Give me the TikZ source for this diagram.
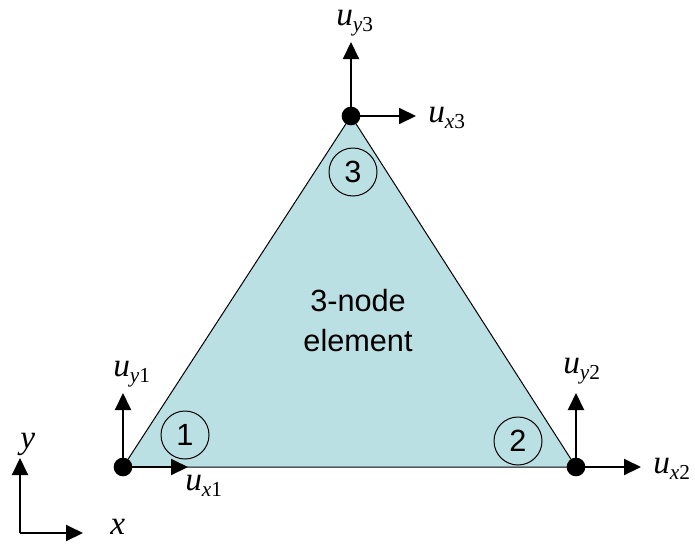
\documentclass[tikz,border=0pt]{standalone}
\usepackage{fontspec}
\setmainfont{Liberation Serif}
\newfontfamily\labelfont{Liberation Sans}
\usetikzlibrary{arrows.meta,positioning}

\definecolor{elemfill}{RGB}{187,224,227}

% displacement label: u with subscript
\newcommand{\dof}[2]{{\itshape u}\raisebox{-5pt}{\fontsize{16}{16}\selectfont\itshape #1\upshape #2}}

\begin{document}
\begin{tikzpicture}[
    x=0.75pt, y=-0.75pt,
    dofarrow/.style={-{Triangle[length=12.75pt,width=12pt]}, line width=1.5pt},
    nodedot/.style={circle, fill=black, minimum size=14pt, inner sep=0pt},
    nodenum/.style={circle, draw, line width=0.75pt, minimum size=36pt, inner sep=0pt, font=\labelfont\fontsize{23}{23}\selectfont},
    doflabel/.style={anchor=base west, inner sep=0pt, text height=8pt, text depth=5pt, font=\fontsize{25}{25}\selectfont},
    axlabel/.style={anchor=base west, inner sep=0pt, text height=8pt, text depth=0pt, font=\itshape\fontsize{25}{25}\selectfont}
]
    \useasboundingbox (0,0) rectangle (695,543);

    \coordinate (p1) at (123,467);
    \coordinate (p2) at (576,467);
    \coordinate (p3) at (351,116);

    % element
    \filldraw[fill=elemfill, draw=black, line width=0.75pt] (p1) -- (p2) -- (p3) -- cycle;

    \node[align=center, font=\labelfont\fontsize{23}{30}\selectfont] (elem) at (358,321) {3-node\\element};

    \node[nodenum] (c1) at (185,435) {1};
    \node[nodenum] (c2) at (518,441) {2};
    \node[nodenum] (c3) at (353,172) {3};

    % degrees of freedom
    \coordinate (x1) at (188,467);
    \coordinate (y1) at (123,393);
    \coordinate (x2) at (641,467);
    \coordinate (y2) at (576,393);
    \coordinate (x3) at (416,116);
    \coordinate (y3) at (351,42);

    \draw[dofarrow] (p1) -- (x1);
    \draw[dofarrow] (p1) -- (y1);
    \draw[dofarrow] (p2) -- (x2);
    \draw[dofarrow] (p2) -- (y2);
    \draw[dofarrow] (p3) -- (x3);
    \draw[dofarrow] (p3) -- (y3);

    \node[nodedot] (n1) at (p1) {};
    \node[nodedot] (n2) at (p2) {};
    \node[nodedot] (n3) at (p3) {};

    \node[doflabel] (ux1) at (185,490) {\dof{x}{1}};
    \node[doflabel] (uy1) at (113,376) {\dof{y}{1}};
    \node[doflabel] (ux2) at (653,473) {\dof{x}{2}};
    \node[doflabel] (uy2) at (563,373) {\dof{y}{2}};
    \node[doflabel] (ux3) at (428,122) {\dof{x}{3}};
    \node[doflabel] (uy3) at (336,25) {\dof{y}{3}};

    % global axes
    \coordinate (o) at (20,533);
    \coordinate (ax) at (83,533);
    \coordinate (ay) at (20,458);
    \draw[dofarrow] (o) -- (ax);
    \draw[dofarrow] (o) -- (ay);
    \node[axlabel] (xlab) at (110,534) {x};
    \node[axlabel] (ylab) at (20,448) {y};
\end{tikzpicture}
\end{document}
